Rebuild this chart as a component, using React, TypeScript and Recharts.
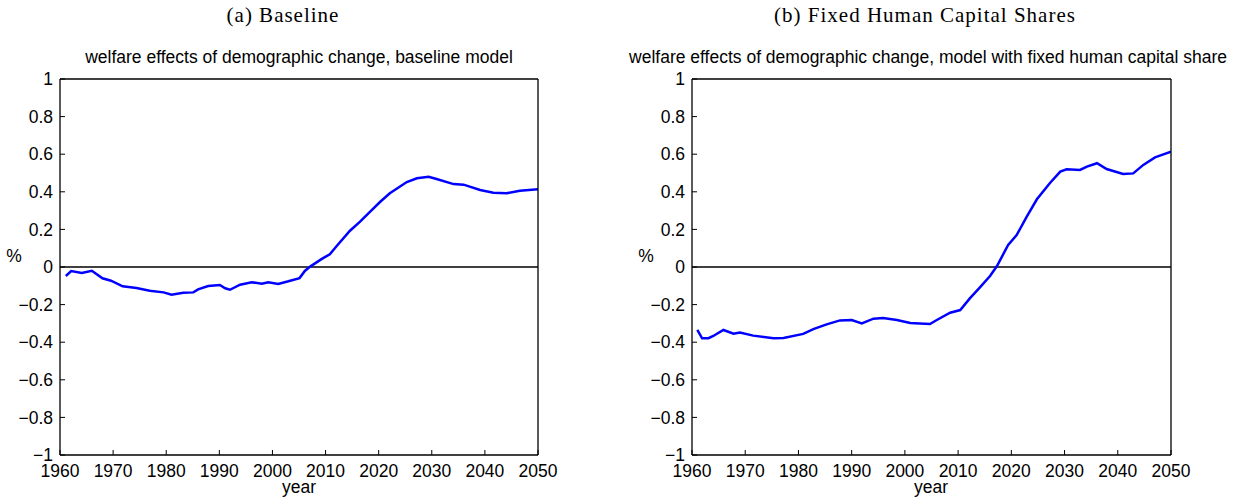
import React from "react";
import { LineChart, Line, XAxis, YAxis, ReferenceLine } from "recharts";

// x positions (years) and y values (%)
const baselineYears = [
  1961.1, 1962.1, 1964.1, 1966.0, 1968.0, 1969.6, 1971.8, 1974.4, 1976.9, 1979.5,
  1981.0, 1983.2, 1985.1, 1986.0, 1987.9, 1990.1, 1991.1, 1992.0, 1993.9, 1996.1,
  1998.0, 1999.2, 2001.1, 2003.0, 2005.1, 2006.1, 2007.1, 2009.3, 2010.8, 2012.1,
  2014.6, 2016.5, 2018.4, 2020.3, 2022.1, 2025.3, 2027.2, 2029.4, 2030.9, 2034.1,
  2036.0, 2039.1, 2041.6, 2044.1, 2046.6, 2050.0,
];
const baselineValues = [
  -0.048, -0.022, -0.032, -0.02, -0.06, -0.073, -0.103, -0.112, -0.126, -0.135,
  -0.147, -0.137, -0.135, -0.119, -0.101, -0.096, -0.113, -0.121, -0.094, -0.081,
  -0.089, -0.081, -0.09, -0.076, -0.059, -0.021, 0.002, 0.043, 0.068, 0.112,
  0.193, 0.241, 0.294, 0.347, 0.392, 0.452, 0.472, 0.48, 0.468, 0.441,
  0.438, 0.41, 0.395, 0.392, 0.406, 0.413,
];

const fixedYears = [
  1961.0, 1961.9, 1963.1, 1964.0, 1965.9, 1967.8, 1969.0, 1971.5, 1975.3, 1977.2,
  1980.9, 1982.8, 1985.3, 1987.8, 1990.0, 1991.9, 1994.1, 1995.9, 1998.5, 2001.0,
  2002.8, 2004.7, 2006.0, 2008.5, 2010.4, 2012.2, 2014.1, 2016.0, 2017.3, 2019.4,
  2021.0, 2022.9, 2024.8, 2027.3, 2029.2, 2030.4, 2032.9, 2034.2, 2036.1, 2037.9,
  2041.0, 2042.9, 2044.8, 2047.0, 2050.0,
];
const fixedValues = [
  -0.335, -0.379, -0.379, -0.367, -0.335, -0.355, -0.348, -0.365, -0.379, -0.378,
  -0.356, -0.33, -0.305, -0.284, -0.282, -0.3, -0.275, -0.271, -0.282, -0.298,
  -0.301, -0.303, -0.282, -0.243, -0.229, -0.167, -0.108, -0.048, 0.005, 0.117,
  0.17, 0.268, 0.36, 0.448, 0.507, 0.52, 0.516, 0.534, 0.552, 0.521,
  0.495, 0.498, 0.543, 0.583, 0.613,
];

const yearTicks = [1960, 1970, 1980, 1990, 2000, 2010, 2020, 2030, 2040, 2050];
const pctTicks = [-1, -0.8, -0.6, -0.4, -0.2, 0, 0.2, 0.4, 0.6, 0.8, 1];

const panelCaptions = ["(a) Baseline", "(b) Fixed Human Capital Shares"];
const panelTitles = [
  "welfare effects of demographic change, baseline model",
  "welfare effects of demographic change, model with fixed human capital share",
];

const sans = "'Liberation Sans', Arial, sans-serif";
const tickStyle = { fill: "#000", fontSize: 17.5, fontFamily: sans };
const fmtPct = (v: number) => (v < 0 ? "\u2212" + Math.abs(v) : String(v));

const toRows = (xs: number[], ys: number[]) => xs.map((year, i) => ({ year, value: ys[i] }));

interface PanelProps {
  left: number;
  caption: string;
  captionX: number;
  title: string;
  titleX: number;
  years: number[];
  values: number[];
  marginLeft: number;
  marginRight: number;
  pctX: number;
  yearX: number;
}

const Panel = (p: PanelProps) => {
  const data = toRows(p.years, p.values);
  const textBase = { position: "absolute" as const, textAlign: "center" as const, whiteSpace: "nowrap" as const };
  return (
    <>
      <div
        style={{
          ...textBase, left: p.captionX - 250, top: 5, width: 500,
          fontFamily: "'Liberation Serif', serif", fontSize: 21, lineHeight: "21px", letterSpacing: 1,
        }}
      >
        {p.caption}
      </div>
      <div
        style={{
          ...textBase, left: p.titleX - 450, top: 49, width: 900,
          fontFamily: sans, fontSize: 17.5, lineHeight: "17.5px",
        }}
      >
        {p.title}
      </div>
      <div
        style={{
          ...textBase, left: p.pctX - 20, top: 248, width: 40,
          fontFamily: sans, fontSize: 17.5, lineHeight: "17.5px",
        }}
      >
        %
      </div>
      <div
        style={{
          ...textBase, left: p.yearX - 50, top: 479, width: 100,
          fontFamily: sans, fontSize: 17.5, lineHeight: "17.5px",
        }}
      >
        year
      </div>
      <div style={{ position: "absolute", left: p.left, top: 0 }}>
        <LineChart
          width={618}
          height={501}
          data={data}
          margin={{ top: 78, right: p.marginRight - 1, bottom: 16, left: p.marginLeft }}
        >
          <XAxis
            xAxisId="bottom"
            dataKey="year"
            type="number"
            domain={[1960, 2050]}
            ticks={yearTicks}
            allowDataOverflow
            height={30}
            tick={tickStyle}
            tickSize={-5}
            tickMargin={15}
            axisLine={{ stroke: "#000", strokeWidth: 1.3 }}
            tickLine={{ stroke: "#000" }}
          />
          <XAxis
            xAxisId="top"
            orientation="top"
            dataKey="year"
            type="number"
            domain={[1960, 2050]}
            ticks={yearTicks}
            allowDataOverflow
            height={1}
            tick={false}
            tickSize={-5}
            axisLine={{ stroke: "#000", strokeWidth: 1.3 }}
            tickLine={{ stroke: "#000" }}
          />
          <YAxis
            yAxisId="left"
            type="number"
            domain={[-1, 1]}
            ticks={pctTicks}
            allowDataOverflow
            width={40}
            tick={tickStyle}
            tickFormatter={fmtPct}
            tickSize={-5}
            tickMargin={12}
            axisLine={{ stroke: "#000", strokeWidth: 1.3 }}
            tickLine={{ stroke: "#000" }}
          />
          <YAxis
            yAxisId="right"
            orientation="right"
            type="number"
            domain={[-1, 1]}
            ticks={pctTicks}
            allowDataOverflow
            width={1}
            tick={false}
            tickSize={-5}
            axisLine={{ stroke: "#000", strokeWidth: 1.3 }}
            tickLine={{ stroke: "#000" }}
          />
          <ReferenceLine xAxisId="bottom" yAxisId="left" y={0} stroke="#000" strokeWidth={1.4} />
          <Line
            xAxisId="bottom"
            yAxisId="left"
            type="linear"
            dataKey="value"
            stroke="#0000ff"
            strokeWidth={2.5}
            dot={false}
            isAnimationActive={false}
          />
        </LineChart>
      </div>
    </>
  );
};

export default function App() {
  return (
    <div
      style={{
        position: "absolute", left: 0, top: 0, width: 1236, height: 501,
        background: "#fff", color: "#000", overflow: "hidden",
      }}
    >
      <Panel
        left={0}
        caption={panelCaptions[0]}
        captionX={283}
        title={panelTitles[0]}
        titleX={299}
        years={baselineYears}
        values={baselineValues}
        marginLeft={20}
        marginRight={80}
        pctX={14}
        yearX={299}
      />
      <Panel
        left={618}
        caption={panelCaptions[1]}
        captionX={925}
        title={panelTitles[1]}
        titleX={928}
        years={fixedYears}
        values={fixedValues}
        marginLeft={34}
        marginRight={65}
        pctX={646}
        yearX={931}
      />
    </div>
  );
}
